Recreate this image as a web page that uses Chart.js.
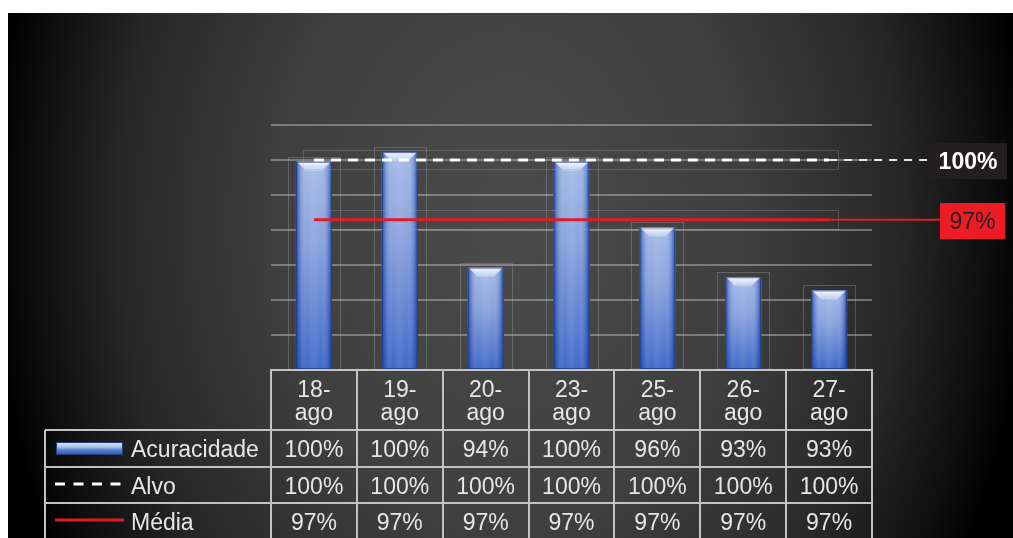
<!DOCTYPE html>
<html>
<head>
<meta charset="utf-8">
<script src="https://cdn.jsdelivr.net/npm/chart.js@4/dist/chart.umd.min.js"></script>
<style>
  html, body { margin: 0; padding: 0; background: #ffffff; }
  #wrap { position: relative; width: 1013px; height: 538px; }
</style>
</head>
<body>
<div id="wrap"><canvas id="c"></canvas></div>
<script>
// Daily accuracy vs. target and average
const categories  = ['18-ago', '19-ago', '20-ago', '23-ago', '25-ago', '26-ago', '27-ago'];
const acuracidade = [99.9, 100.45, 93.85, 99.9, 96.15, 93.3, 92.55];
const alvo        = [100, 100, 100, 100, 100, 100, 100];
const media       = [96.59, 96.59, 96.59, 96.59, 96.59, 96.59, 96.59];
const seriesNames = ['Acuracidade', 'Alvo', 'Média'];
const yMin = 88, yMax = 102, yStep = 2;

const pct = v => Math.round(v) + '%';
const FONT = '"Liberation Sans", Arial, sans-serif';

// dark vignette panel behind everything
const backdrop = {
  id: 'backdrop',
  beforeDraw(chart) {
    const { ctx, width, height } = chart;
    ctx.save();
    ctx.fillStyle = '#ffffff';
    ctx.fillRect(0, 0, width, height);
    ctx.beginPath();
    ctx.rect(8, 13, width - 8, height - 13);
    ctx.clip();
    ctx.translate(510, 220);
    ctx.scale(1, 1.35);
    const g = ctx.createRadialGradient(0, 0, 0, 0, 0, 520);
    g.addColorStop(0, '#4b4b4b');
    g.addColorStop(0.45, '#3f3f3f');
    g.addColorStop(0.75, '#272727');
    g.addColorStop(0.92, '#0e0e0e');
    g.addColorStop(1, '#000000');
    ctx.fillStyle = g;
    ctx.fillRect(-700, -500, 1400, 1000);
    ctx.restore();
  }
};

// glossy bar rendering, faint frames around bars and line series
const barStyle = {
  id: 'barStyle',
  afterDatasetDraw(chart, args) {
    if (args.index !== 0) return;
    const ctx = chart.ctx;
    ctx.save();
    chart.getDatasetMeta(0).data.forEach(el => {
      const { x, y, base, width } = el.getProps(['x', 'y', 'base', 'width'], true);
      const l = x - width / 2, r = x + width / 2, h = base - y;
      // faint frame
      ctx.strokeStyle = 'rgba(190,190,190,0.28)';
      ctx.lineWidth = 1;
      ctx.strokeRect(Math.round(x - 26) + 0.5, Math.round(y - 5) + 0.5, 52, h + 5);
      // body
      let g = ctx.createLinearGradient(0, y, 0, base);
      g.addColorStop(0, '#a3b8e7');
      g.addColorStop(0.4, '#859fdc');
      g.addColorStop(1, '#3763c6');
      ctx.fillStyle = g;
      ctx.fillRect(l, y, width, h);
      // side shading
      g = ctx.createLinearGradient(l, 0, r, 0);
      g.addColorStop(0, 'rgba(25,55,140,0.9)');
      g.addColorStop(0.1, 'rgba(40,80,170,0.35)');
      g.addColorStop(0.3, 'rgba(255,255,255,0.04)');
      g.addColorStop(0.5, 'rgba(255,255,255,0.12)');
      g.addColorStop(0.7, 'rgba(255,255,255,0.04)');
      g.addColorStop(0.9, 'rgba(40,80,170,0.35)');
      g.addColorStop(1, 'rgba(25,55,140,0.9)');
      ctx.fillStyle = g;
      ctx.fillRect(l, y, width, h);
      // top bevel
      ctx.beginPath();
      ctx.moveTo(l + 1, y);
      ctx.lineTo(r - 1, y);
      ctx.lineTo(r - 10, y + 9);
      ctx.lineTo(l + 10, y + 9);
      ctx.closePath();
      g = ctx.createLinearGradient(0, y, 0, y + 9);
      g.addColorStop(0, 'rgba(255,255,255,0.95)');
      g.addColorStop(1, 'rgba(220,232,250,0.45)');
      ctx.fillStyle = g;
      ctx.fill();
      ctx.strokeStyle = 'rgba(30,60,130,0.75)';
      ctx.strokeRect(l + 0.5, y + 0.5, width - 1, h - 1);
    });
    // faint frames around the two line series
    [1, 2].forEach(i => {
      const pts = chart.getDatasetMeta(i).data;
      if (!pts.length) return;
      const x0 = pts[0].x, x1 = pts[pts.length - 1].x, yy = pts[0].y;
      ctx.strokeStyle = 'rgba(170,170,170,0.3)';
      ctx.lineWidth = 1;
      ctx.strokeRect(Math.round(x0 - 11) + 0.5, Math.round(yy - 10) + 0.5, Math.round(x1 - x0 + 20), 19);
    });
    ctx.restore();
  }
};

// leader lines and value boxes at the right end of the two lines
const endLabels = {
  id: 'endLabels',
  afterDatasetsDraw(chart) {
    const ctx = chart.ctx;
    const boxes = [
      { ds: 1, values: alvo,  bx: 929, bw: 78, fill: '#231f20', text: '#ffffff', bold: true,
        stroke: '#e6e6e6', dash: [8, 7] },
      { ds: 2, values: media, bx: 940, bw: 65, fill: '#ed1c24', text: '#231f20', bold: false,
        stroke: '#e31b23', dash: [] }
    ];
    ctx.save();
    boxes.forEach(b => {
      const pts = chart.getDatasetMeta(b.ds).data;
      const last = pts[pts.length - 1];
      ctx.strokeStyle = b.stroke;
      ctx.lineWidth = 2;
      ctx.setLineDash(b.dash);
      ctx.beginPath();
      ctx.moveTo(last.x, last.y);
      ctx.lineTo(b.bx, last.y);
      ctx.stroke();
      ctx.setLineDash([]);
      const cy = last.y + 1;
      ctx.fillStyle = b.fill;
      ctx.fillRect(b.bx, Math.round(cy - 18), b.bw, 36);
      ctx.fillStyle = b.text;
      ctx.font = (b.bold ? 'bold ' : '') + '23px ' + FONT;
      ctx.textAlign = 'center';
      ctx.textBaseline = 'alphabetic';
      ctx.fillText(pct(b.values[b.values.length - 1]), b.bx + b.bw / 2, cy + 8);
    });
    ctx.restore();
  }
};

// data table under the plot, with legend keys in the first column
const dataTable = {
  id: 'dataTable',
  afterDraw(chart) {
    const { ctx, chartArea: ca, height } = chart;
    const xs = chart.scales.x;
    const n = categories.length;
    const cw = (ca.right - ca.left) / n;
    const top = ca.bottom;
    const rows = [top + 60, top + 97, top + 133, top + 169];
    const legL = 45;
    ctx.save();
    ctx.strokeStyle = '#c2c2c2';
    ctx.lineWidth = 2;
    ctx.beginPath();
    ctx.moveTo(ca.left - 1, top); ctx.lineTo(ca.right + 1, top);
    for (let k = 0; k < 3; k++) { ctx.moveTo(legL, rows[k]); ctx.lineTo(ca.right + 1, rows[k]); }
    for (let i = 0; i <= n; i++) {
      const vx = Math.round(ca.left + i * cw);
      ctx.moveTo(vx, top); ctx.lineTo(vx, height);
    }
    ctx.moveTo(legL, rows[0]); ctx.lineTo(legL, height);
    ctx.stroke();

    ctx.fillStyle = '#e6e6e6';
    ctx.font = '23px ' + FONT;
    ctx.textAlign = 'center';
    ctx.textBaseline = 'alphabetic';
    categories.forEach((c, i) => {
      const cx = xs.getPixelForValue(i);
      const cut = c.indexOf('-') + 1;
      ctx.fillText(c.slice(0, cut), cx, top + 27);
      ctx.fillText(c.slice(cut), cx, top + 50);
    });
    const series = [acuracidade, alvo, media];
    series.forEach((vals, k) => {
      const base = rows[k] + 27;
      vals.forEach((v, i) => ctx.fillText(pct(v), xs.getPixelForValue(i), base));
    });
    ctx.textAlign = 'left';
    seriesNames.forEach((s, k) => ctx.fillText(s, legL + 86, rows[k] + 27));

    // legend keys
    const by = rows[0] + 12;
    let g = ctx.createLinearGradient(0, by, 0, by + 13);
    g.addColorStop(0, '#dfe9f8');
    g.addColorStop(0.4, '#a8bfe9');
    g.addColorStop(0.6, '#5a80cf');
    g.addColorStop(1, '#2f57a8');
    ctx.fillStyle = g;
    ctx.fillRect(legL + 11, by, 67, 13);
    ctx.strokeStyle = '#1f3f80';
    ctx.lineWidth = 1;
    ctx.strokeRect(legL + 11.5, by + 0.5, 66, 12);

    ctx.strokeStyle = '#ffffff';
    ctx.lineWidth = 3;
    ctx.setLineDash([10, 8.5]);
    ctx.beginPath();
    ctx.moveTo(legL + 10, rows[1] + 17); ctx.lineTo(legL + 77, rows[1] + 17);
    ctx.stroke();
    ctx.setLineDash([]);

    ctx.strokeStyle = '#e31b23';
    ctx.beginPath();
    ctx.moveTo(legL + 10, rows[2] + 17); ctx.lineTo(legL + 79, rows[2] + 17);
    ctx.stroke();
    ctx.restore();
  }
};

new Chart(document.getElementById('c'), {
  data: {
    labels: categories,
    datasets: [
      { type: 'bar', label: seriesNames[0], data: acuracidade, base: yMin, backgroundColor: '#4a72c4',
        borderWidth: 0, barPercentage: 0.42, categoryPercentage: 1, order: 2 },
      { type: 'line', label: seriesNames[1], data: alvo, borderColor: '#ffffff', borderWidth: 3,
        borderDash: [10, 7], pointRadius: 0, fill: false, order: 1 },
      { type: 'line', label: seriesNames[2], data: media, borderColor: '#e31b23', borderWidth: 3,
        pointRadius: 0, fill: false, order: 0 }
    ]
  },
  options: {
    responsive: true,
    maintainAspectRatio: false,
    animation: false,
    layout: { padding: { left: 271, right: 141, top: 125, bottom: 168 } },
    plugins: { legend: { display: false }, tooltip: { enabled: false } },
    scales: {
      x: { display: false },
      y: {
        min: yMin, max: yMax,
        ticks: { display: false, stepSize: yStep },
        grid: { color: 'rgba(200,200,200,0.45)', lineWidth: 2, drawTicks: false },
        border: { display: false },
        afterFit(s) { s.width = 0; }
      }
    }
  },
  plugins: [backdrop, barStyle, endLabels, dataTable]
});
</script>
</body>
</html>
